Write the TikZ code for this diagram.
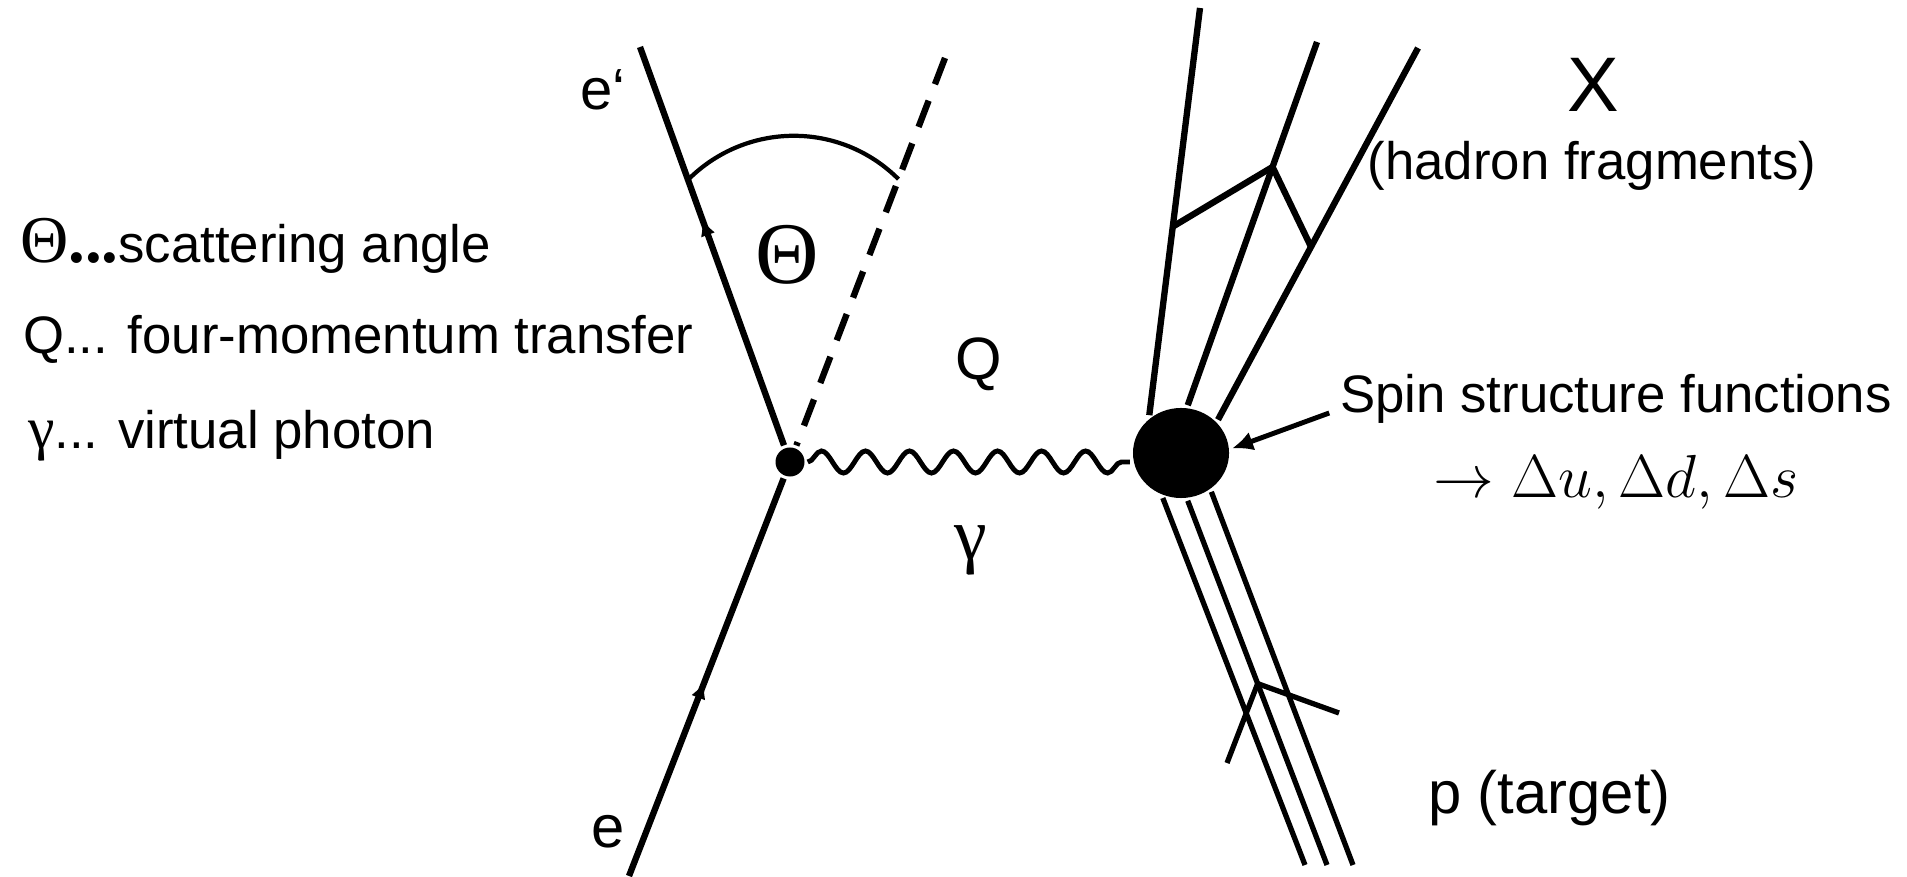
\documentclass[tikz,border=0pt]{standalone}
\usepackage{fontspec}
\setmainfont{Liberation Sans}
\newfontfamily\grkfont{Liberation Serif}
\usetikzlibrary{positioning, calc, arrows.meta, shapes.geometric, decorations.pathmorphing, decorations.markings}

\begin{document}
\begin{tikzpicture}[
  x=0.01cm, y=0.01cm,
  line width=1.8pt,
  fermion/.style = {postaction={decorate}, decoration={markings,
      mark=at position #1 with {\arrow{Latex[length=5pt,width=4.2pt]}}}},
  photon/.style  = {decorate, decoration={snake, segment length=0.44cm, amplitude=0.11cm}, line width=1.4pt},
  quark/.style   = {line width=1.5pt},
  vertex/.style  = {circle, fill, inner sep=0pt, minimum size=0.29cm},
  blob/.style    = {ellipse, fill, inner sep=0pt, minimum width=0.96cm, minimum height=0.9cm},
  pointer/.style = {-{Latex[length=6pt,width=5.5pt]}, line width=1.4pt},
  lbl/.style     = {inner sep=0pt, font=\fontsize{#1}{#1}\selectfont},
]
  \useasboundingbox (0,0) rectangle (1907,876);

  % lepton vertex
  \node[vertex] (vtx) at (790,414) {};
  \node[blob]   (had) at (1181,423) {};
  \coordinate (ein)  at (629,0);
  \coordinate (eout) at (640,829);
  \coordinate (qdir) at (945,818);

  \draw[fermion=0.49] (ein) -- (vtx);
  \draw[fermion=0.57] (vtx) -- (eout);
  \draw[dash pattern=on 8pt off 5pt] (qdir) -- (vtx);

  % scattering angle
  \coordinate (a1) at ($(vtx)!0.68!(eout)$);
  \coordinate (a2) at ($(vtx)!0.70!(qdir)$);
  \draw[line width=1.2pt] (a1) to[out=45, in=135] (a2);

  % virtual photon
  \draw[photon] (vtx) -- (vtx -| had.west);

  % hadron fragments
  \coordinate (x1) at (1200,868);
  \coordinate (x2) at (1317,834);
  \coordinate (x3) at (1418,828);
  \draw (had.130) -- (x1);
  \draw (had.82)  -- (x2);
  \draw (had.42)  -- (x3);
  \draw ($(had.130)!0.463!(x1)$) -- ($(had.82)!0.656!(x2)$) -- ($(had.42)!0.465!(x3)$);

  % target quarks
  \coordinate (p1) at (1305,11);
  \coordinate (p2) at (1327,11);
  \coordinate (p3) at (1353,11);
  \draw[quark] (had.248) -- (p1);
  \draw[quark] (had.278) -- (p2);
  \draw[quark] (had.308) -- (p3);
  \coordinate (q1) at (1227,113);
  \coordinate (q3) at (1339,163);
  \draw[quark] (q1) -- ($(had.278)!0.502!(p2)$) -- (q3);

  % labels
  \node[lbl=16.5, anchor=base west] (eplab) at (577,766) {e‘};
  \node[lbl=17,   anchor=base west] (elab)  at (588,29)  {e};
  \node[lbl=17,   anchor=base west] (qlab)  at (952,496) {Q};
  \node[lbl=25,   anchor=base] (thlab) at (787,592) {\grkfont Θ};
  \node[lbl=21,   anchor=base] (glab)  at (971,316) {\grkfont γ};

  \node[lbl=22, anchor=base] (xlab) at (1593,764) {X};
  \node[lbl=15, anchor=base] (frag) at (1592,696) {(hadron fragments)};
  \node[lbl=15, anchor=base] (spin) at (1616,463) {Spin structure functions};
  \node[lbl=16, below=0.25cm of spin] (dq) {$\rightarrow \Delta u, \Delta d, \Delta s$};
  \node[lbl=17, anchor=base west] (tgt) at (1425,63) {p (target)};

  \draw[pointer] ([xshift=-0.08cm]spin.base west) -- (had.5);

  % legend
  \node[lbl=15, anchor=base west] (leg1) at (17,613) {{\grkfont\fontsize{19}{19}\selectfont Θ\bfseries...}scattering angle};
  \node[lbl=15, anchor=base west] (leg2) at (20,522) {Q... four-momentum transfer};
  \node[lbl=15, anchor=base west] (leg3) at (25,427) {{\grkfont\fontsize{17}{17}\selectfont γ}... virtual photon};
\end{tikzpicture}
\end{document}
